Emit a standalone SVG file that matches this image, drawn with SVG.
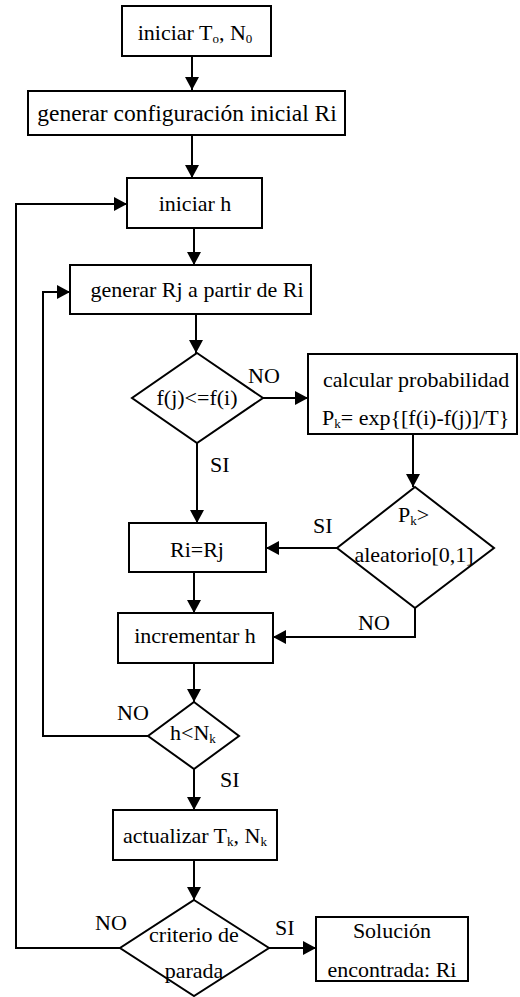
<svg xmlns="http://www.w3.org/2000/svg" width="520" height="997" viewBox="0 0 520 997">
<style>
.n{fill:#fff;stroke:#000;stroke-width:2}
.t{font-family:"Liberation Serif","Times New Roman","DejaVu Serif",serif;font-size:22px;fill:#000}
.m{text-anchor:middle}
.s{font-size:13px}
.c{fill:none;stroke:#000;stroke-width:2}
</style>
<defs>
<marker id="a" markerUnits="userSpaceOnUse" markerWidth="14" markerHeight="14" refX="13" refY="7" orient="auto">
<path d="M0,0 L13,7 L0,14 z" fill="#000"/>
</marker>
</defs>
<rect width="520" height="997" fill="#fff"/>
<g id="connectors">
<path class="c" d="M192,56 V90" marker-end="url(#a)"/>
<path class="c" d="M192,135 V178" marker-end="url(#a)"/>
<path class="c" d="M194,228 V265" marker-end="url(#a)"/>
<path class="c" d="M196,314 V353" marker-end="url(#a)"/>
<path class="c" d="M263,398 H308" marker-end="url(#a)"/>
<path class="c" d="M413,434 V487" marker-end="url(#a)"/>
<path class="c" d="M337,548 H266" marker-end="url(#a)"/>
<path class="c" d="M197,443 V523" marker-end="url(#a)"/>
<path class="c" d="M194,572 V613" marker-end="url(#a)"/>
<path class="c" d="M415,608 V637 H273" marker-end="url(#a)"/>
<path class="c" d="M194,663 V702" marker-end="url(#a)"/>
<path class="c" d="M148,736 H43 V292 H70" marker-end="url(#a)"/>
<path class="c" d="M194,769 V810" marker-end="url(#a)"/>
<path class="c" d="M194,860 V900" marker-end="url(#a)"/>
<path class="c" d="M120,948 H16 V204 H127" marker-end="url(#a)"/>
<path class="c" d="M269,948 H316" marker-end="url(#a)"/>
<text class="t" x="248" y="383">NO</text>
<text class="t" x="210" y="472">SI</text>
<text class="t" x="313" y="533">SI</text>
<text class="t" x="358" y="630">NO</text>
<text class="t" x="117" y="720">NO</text>
<text class="t" x="220" y="787">SI</text>
<text class="t" x="95" y="930">NO</text>
<text class="t" x="275" y="935">SI</text>
</g>
<g id="n1">
<rect class="n" x="122" y="6" width="149" height="50"/>
<text class="t m" x="195" y="40">iniciar T<tspan class="s" dy="3">o</tspan><tspan dy="-3">, N</tspan><tspan class="s" dy="3">0</tspan></text>
</g>
<g id="n2">
<rect class="n" x="28" y="91" width="317" height="44"/>
<text class="t m" x="187" y="121" style="font-size:23.5px">generar configuración inicial Ri</text>
</g>
<g id="n3">
<rect class="n" x="127" y="178" width="135" height="50"/>
<text class="t m" x="195" y="211">iniciar h</text>
</g>
<g id="n4">
<rect class="n" x="70" y="265" width="241" height="49"/>
<text class="t m" x="197" y="297">generar Rj a partir de Ri</text>
</g>
<g id="d1">
<polygon class="n" points="197,353 263,398 197,443 132,398"/>
<text class="t m" x="197" y="405">f(j)&lt;=f(i)</text>
</g>
<g id="n5">
<rect class="n" x="308" y="354" width="209" height="80"/>
<text class="t" x="323" y="387">calcular probabilidad</text>
<text class="t" x="322" y="425">P<tspan class="s" dy="3">k</tspan><tspan dy="-3">= exp{[f(i)-f(j)]/T}</tspan></text>
</g>
<g id="d2">
<polygon class="n" points="415,487 494,548 415,608 337,548"/>
<text class="t" x="398" y="522">P<tspan class="s" dy="3">k</tspan><tspan dy="-3">&gt;</tspan></text>
<text class="t m" x="414" y="562">aleatorio[0,1]</text>
</g>
<g id="n6">
<rect class="n" x="129" y="523" width="137" height="49"/>
<text class="t m" x="197" y="557">Ri=Rj</text>
</g>
<g id="n7">
<rect class="n" x="118" y="613" width="155" height="50"/>
<text class="t m" x="195" y="643">incrementar h</text>
</g>
<g id="d3">
<polygon class="n" points="194,702 239,736 194,769 148,736"/>
<text class="t" x="170" y="740">h&lt;N<tspan class="s" dy="3">k</tspan></text>
</g>
<g id="n8">
<rect class="n" x="113" y="810" width="164" height="50"/>
<text class="t m" x="195" y="843">actualizar T<tspan class="s" dy="3">k</tspan><tspan dy="-3">, N</tspan><tspan class="s" dy="3">k</tspan></text>
</g>
<g id="d4">
<polygon class="n" points="194,900 269,948 194,996 120,948"/>
<text class="t m" x="194" y="942">criterio de</text>
<text class="t m" x="194" y="978">parada</text>
</g>
<g id="n9">
<rect class="n" x="316" y="917" width="152" height="64"/>
<text class="t m" x="392" y="938">Solución</text>
<text class="t m" x="392" y="977">encontrada: Ri</text>
</g>
</svg>
